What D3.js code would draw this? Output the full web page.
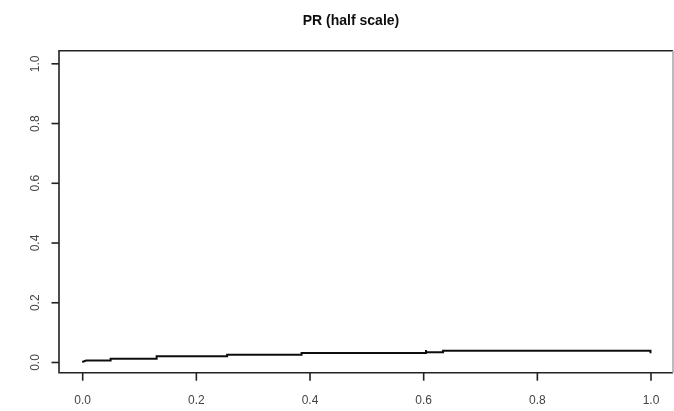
<!DOCTYPE html>
<html>
<head>
<meta charset="utf-8">
<script src="https://cdn.jsdelivr.net/npm/d3@7"></script>
<style>
  html, body { margin: 0; padding: 0; background: #fff; }
  svg { display: block; }
  text { font-family: "Liberation Sans", Arial, sans-serif; }
</style>
</head>
<body>
<svg id="chart" width="674" height="411"></svg>
<script>
// Precision-recall curve (step-shaped), recall on x, precision on y
const recall    = [0, 0.007, 0.007, 0.05, 0.05, 0.131, 0.131, 0.255, 0.255, 0.386, 0.386, 0.605, 0.605, 0.605, 0.635, 0.635, 1.0, 1.0];
const precision = [0, 0.005, 0.005, 0.005, 0.011, 0.011, 0.019, 0.019, 0.024, 0.024, 0.030, 0.030, 0.040, 0.0325, 0.0325, 0.0375, 0.0375, 0.029];
const xTicks = [0, 0.2, 0.4, 0.6, 0.8, 1.0];
const yTicks = [0, 0.2, 0.4, 0.6, 0.8, 1.0];
const title = "PR (half scale)";

const svg = d3.select("#chart");
const box = { left: 59, right: 673, top: 50.7, bottom: 372.7 };

// slight softening of the whole drawing
svg.append("defs").append("filter").attr("id", "soft")
  .append("feGaussianBlur").attr("stdDeviation", 0.45);
const root = svg.append("g").attr("filter", "url(#soft)");

const x = d3.scaleLinear().domain([0, 1]).range([82.2, 650.5]);
const y = d3.scaleLinear().domain([0, 1]).range([362, 63.3]);
const fmt = d3.format(".1f");

// plot frame: dark left/top/bottom, lighter right edge
const frame = root.append("g").attr("fill", "none").attr("stroke-width", 1.6);
frame.append("path")
  .attr("d", `M${box.right},${box.top}H${box.left}V${box.bottom}H${box.right}`)
  .attr("stroke", "#222");
frame.append("line")
  .attr("x1", box.right).attr("x2", box.right)
  .attr("y1", box.top).attr("y2", box.bottom)
  .attr("stroke", "#aaa");

// x axis
const xAxis = d3.axisBottom(x).tickValues(xTicks).tickFormat(fmt).tickSize(8).tickPadding(15);
const gx = root.append("g").attr("transform", `translate(0,${box.bottom})`).call(xAxis);
gx.select(".domain").remove();
gx.selectAll(".tick line").attr("stroke", "#222").attr("stroke-width", 1.6);
gx.selectAll(".tick text").attr("fill", "#444").attr("font-size", 12)
  .style("font-family", "'Liberation Sans', Arial, sans-serif");

// y axis with rotated labels
const yAxis = d3.axisLeft(y).tickValues(yTicks).tickFormat(fmt).tickSize(7.5);
const gy = root.append("g").attr("transform", `translate(${box.left},0)`).call(yAxis);
gy.select(".domain").remove();
gy.selectAll(".tick line").attr("stroke", "#222").attr("stroke-width", 1.6);
gy.selectAll(".tick text")
  .attr("fill", "#444").attr("font-size", 12)
  .style("font-family", "'Liberation Sans', Arial, sans-serif")
  .attr("x", null).attr("dy", null)
  .attr("text-anchor", "middle")
  .attr("transform", "translate(-24,0) rotate(-90)")
  .attr("dy", "0.35em");

// curve
const pts = recall.map((r, i) => [r, precision[i]]);
root.append("path")
  .datum(pts)
  .attr("d", d3.line().x(d => x(d[0])).y(d => y(d[1])))
  .attr("fill", "none").attr("stroke", "#111").attr("stroke-width", 2);

// title
root.append("text")
  .attr("x", 351).attr("y", 25)
  .attr("text-anchor", "middle")
  .attr("font-size", 14).attr("font-weight", "bold").attr("fill", "#111")
  .text(title);
</script>
</body>
</html>
